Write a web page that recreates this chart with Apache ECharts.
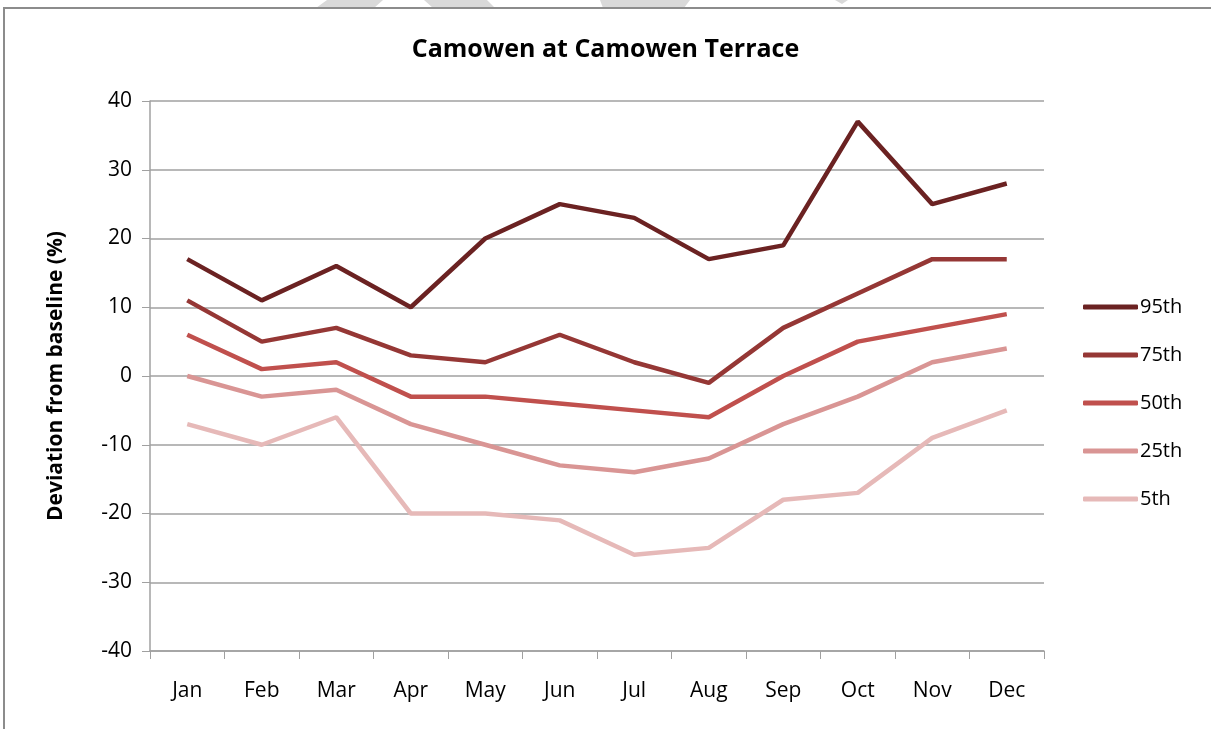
<!DOCTYPE html>
<html lang="en">
<head>
    <meta charset="UTF-8">
    <title>Camowen at Camowen Terrace</title>
    <script src="https://cdn.jsdelivr.net/npm/echarts@6/dist/echarts.min.js"></script>
    <style>
        html, body { margin: 0; padding: 0; background: #fff; }
        #chart { width: 1211px; height: 729px; }
    </style>
</head>
<body>
    <div id="chart"></div>
</body>
<script type="text/javascript">
    var months = ['Jan', 'Feb', 'Mar', 'Apr', 'May', 'Jun', 'Jul', 'Aug', 'Sep', 'Oct', 'Nov', 'Dec'];
    var seriesNames = ['95th', '75th', '50th', '25th', '5th'];
    var p95 = [17, 11, 16, 10, 20, 25, 23, 17, 19, 37, 25, 28];
    var p75 = [11, 5, 7, 3, 2, 6, 2, -1, 7, 12, 17, 17];
    var p50 = [6, 1, 2, -3, -3, -4, -5, -6, 0, 5, 7, 9];
    var p25 = [0, -3, -2, -7, -10, -13, -14, -12, -7, -3, 2, 4];
    var p5 = [-7, -10, -6, -20, -20, -21, -26, -25, -18, -17, -9, -5];
    var colors = ['#6b2222', '#953735', '#c0504d', '#d99594', '#e6b9b8'];
    var font = '"Open Sans", "Liberation Sans", sans-serif';

    var chart = echarts.init(document.getElementById('chart'));
    var allData = [p95, p75, p50, p25, p5];
    var series = [];
    for (var i = 0; i < seriesNames.length; i++) {
        series.push({
            name: seriesNames[i],
            type: 'line',
            data: allData[i],
            symbol: 'none',
            lineStyle: { width: 4.5, color: colors[i] },
            itemStyle: { color: colors[i] }
        });
    }

    // watermark bits above the frame
    var wm = '#d9d9d9';
    var option = {
        animation: false,
        color: colors,
        title: {
            text: 'Camowen at Camowen Terrace',
            left: 'center',
            top: 32,
            textStyle: { fontFamily: font, fontSize: 25, fontWeight: 'bold', color: '#000' }
        },
        graphic: [
            { type: 'polygon', shape: { points: [[316, 8], [374, 8], [383, 0], [327, 0]] }, style: { fill: wm } },
            { type: 'polygon', shape: { points: [[433, 8], [495, 8], [487, 0], [424, 0]] }, style: { fill: wm } },
            { type: 'polygon', shape: { points: [[603, 8], [684, 8], [690, 0], [600, 0]] }, style: { fill: wm } },
            { type: 'polygon', shape: { points: [[835, 0], [848, 0], [842, 4]] }, style: { fill: wm } },
            { type: 'rect', shape: { x: 4, y: 8, width: 1220, height: 740 }, style: { fill: 'none', stroke: '#8c8c8c', lineWidth: 2 } }
        ],
        legend: {
            orient: 'vertical',
            left: 1083,
            top: 293,
            padding: 0,
            itemGap: 20,
            itemWidth: 55,
            itemHeight: 5,
            icon: 'roundRect',
            data: seriesNames,
            textStyle: { fontFamily: font, fontSize: 20, color: '#000', lineHeight: 28, padding: [0, 0, 0, -3] }
        },
        grid: {
            left: 150,
            right: 167,
            top: 101,
            bottom: 78
        },
        xAxis: {
            type: 'category',
            data: months,
            boundaryGap: true,
            axisLine: { onZero: false, lineStyle: { color: '#a0a0a0', width: 1.5 } },
            axisTick: { show: true, length: 8, inside: false, lineStyle: { color: '#a0a0a0' } },
            axisLabel: { margin: 30, fontFamily: font, fontSize: 21, color: '#000' },
            splitLine: { show: false }
        },
        yAxis: {
            type: 'value',
            min: -40,
            max: 40,
            interval: 10,
            name: 'Deviation from baseline (%)',
            nameLocation: 'middle',
            nameGap: 83,
            nameTextStyle: { fontFamily: font, fontSize: 21, fontWeight: 'bold', color: '#000' },
            axisLine: { show: true, lineStyle: { color: '#a0a0a0', width: 1.5 } },
            axisTick: { show: true, length: 8, lineStyle: { color: '#a0a0a0' } },
            axisLabel: { margin: 18, fontFamily: font, fontSize: 21, color: '#000' },
            splitLine: { lineStyle: { color: '#a0a0a0', width: 1.5 } }
        },
        series: series
    };
    chart.setOption(option);
    window.addEventListener('resize', function () {
        chart.resize();
    });
</script>
</html>
